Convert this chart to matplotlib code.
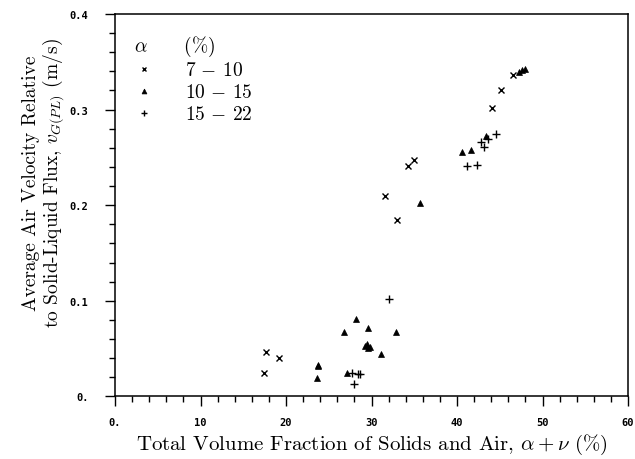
import numpy as np
import matplotlib
matplotlib.use("Agg")
import matplotlib.pyplot as plt

plt.rcParams["mathtext.fontset"] = "cm"

# alpha 7-10 %
x_lo = [17.4, 17.7, 19.2, 31.6, 33.0, 34.3, 35.0, 44.1, 45.2, 46.6]
y_lo = [0.025, 0.046, 0.040, 0.210, 0.185, 0.241, 0.247, 0.302, 0.321, 0.336]
# alpha 10-15 %
x_mid = [23.6, 23.7, 23.8, 26.8, 27.1, 28.2, 29.6, 29.2, 29.5, 29.8, 29.6,
         31.1, 32.9, 35.7, 40.6, 41.6, 43.4, 47.3, 47.6, 47.9]
y_mid = [0.019, 0.032, 0.033, 0.067, 0.025, 0.081, 0.072, 0.053, 0.055, 0.052, 0.051,
         0.044, 0.067, 0.202, 0.256, 0.258, 0.272, 0.339, 0.341, 0.343]
# alpha 15-22 %
x_hi = [28.0, 27.7, 28.4, 28.7, 32.0, 41.2, 42.3, 42.8, 43.2, 43.6, 44.6]
y_hi = [0.013, 0.025, 0.024, 0.024, 0.102, 0.241, 0.242, 0.266, 0.261, 0.269, 0.275]

labels = [r"$\mathbf{7}\,-\,\mathbf{10}$", r"$\mathbf{10}\,-\,\mathbf{15}$",
          r"$\mathbf{15}\,-\,\mathbf{22}$"]
x_ticks = [0, 10, 20, 30, 40, 50, 60]
x_ticklabels = ["0.", "10", "20", "30", "40", "50", "60"]
y_ticks = [0, 0.1, 0.2, 0.3, 0.4]
y_ticklabels = ["0.", "0.1", "0.2", "0.3", "0.4"]

fig = plt.figure(figsize=(6.35, 4.6), dpi=100)
ax = fig.add_axes([0.1811, 0.1359, 0.8079, 0.8315])

ax.plot(x_lo, y_lo, ls="none", marker="x", ms=5, mew=1.0, color="black", label=labels[0])
ax.plot(x_mid, y_mid, ls="none", marker="^", ms=5, mew=0.5, color="black", label=labels[1])
ax.plot(x_hi, y_hi, ls="none", marker="+", ms=6, mew=1.0, color="black", label=labels[2])

ax.set_xlim(0, 60)
ax.set_ylim(0, 0.4)
ax.set_xticks(x_ticks)
ax.set_xticklabels(x_ticklabels)
ax.set_yticks(y_ticks)
ax.set_yticklabels(y_ticklabels)
ax.set_xticks(np.arange(0, 61, 2), minor=True)
ax.set_yticks(np.arange(0, 0.401, 0.02), minor=True)
ax.tick_params(which="major", direction="out", length=7, width=1.0, pad=8)
ax.tick_params(which="minor", direction="out", length=4, width=1.0)
ax.tick_params(axis="y", which="major", pad=12)
for lab in ax.get_xticklabels() + ax.get_yticklabels():
    lab.set_fontfamily("DejaVu Sans Mono")
    lab.set_fontweight("bold")
    lab.set_fontsize(7.5)
for sp in ax.spines.values():
    sp.set_linewidth(1.1)

ax.set_xlabel(r"Total Volume Fraction of Solids and Air, $\alpha + \nu$ (%)",
              family="cmr10", fontsize=15, labelpad=3)
ax.set_ylabel("Average Air Velocity Relative\n"
              r"to Solid-Liquid Flux, $v_{G(PL)}$ (m/s)",
              family="cmr10", fontsize=14, linespacing=1.05)
ax.yaxis.set_label_coords(-0.095, 0.56)

leg = ax.legend(loc="upper left", frameon=False, title=r"$\alpha$      $\mathbf{(\%)}$",
                alignment="left", fontsize=14, title_fontsize=14, markerscale=0.7,
                handlelength=1.0, handletextpad=1.6, labelspacing=0.15,
                borderaxespad=0.6)

fig.savefig("out.png", dpi=100)
